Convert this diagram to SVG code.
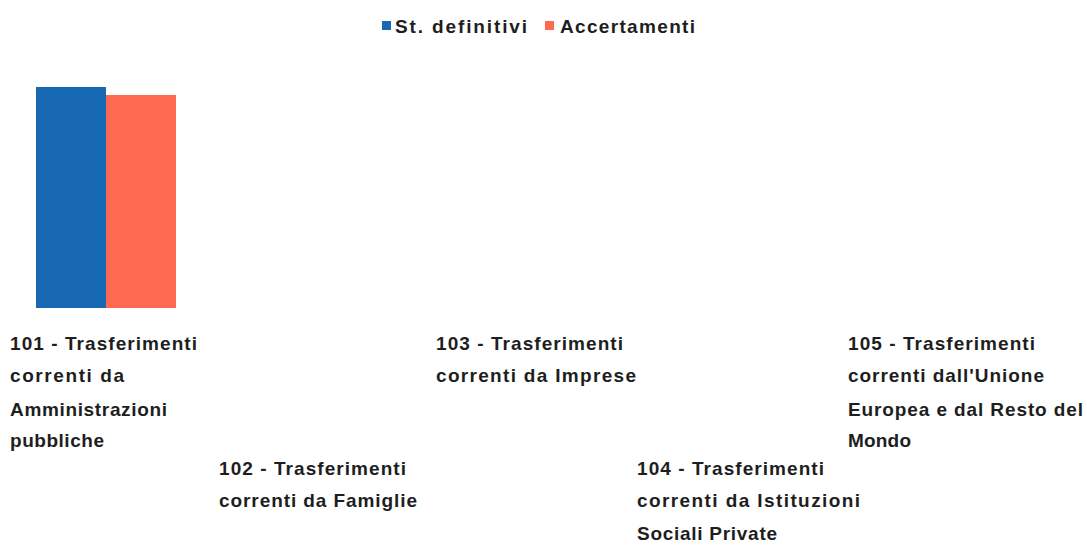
<svg xmlns="http://www.w3.org/2000/svg" width="1087" height="546" viewBox="0 0 1087 546">
<style>
text{font-family:"Liberation Sans",Arial,sans-serif;font-weight:bold;font-size:19px;fill:#1e1e1e}
.b{fill:#1769b3}.r{fill:#fd6a4f}
</style>
<rect width="1087" height="546" fill="#fff"/>
<g id="legend">
<rect class="b" x="382" y="21" width="9" height="9"/>
<text x="395" y="33" textLength="132" lengthAdjust="spacing">St. definitivi</text>
<rect class="r" x="545" y="21" width="9" height="9"/>
<text x="560" y="33" textLength="135" lengthAdjust="spacing">Accertamenti</text>
</g>
<g id="bars">
<rect class="b" x="36" y="87" width="70" height="221"/>
<rect class="r" x="106" y="95" width="70" height="213"/>
</g>
<g id="cat101"><text x="10" y="350" textLength="187" lengthAdjust="spacing">101 - Trasferimenti</text><text x="10" y="382" textLength="114" lengthAdjust="spacing">correnti da</text><text x="10" y="416" textLength="157" lengthAdjust="spacing">Amministrazioni</text><text x="10" y="447" textLength="94" lengthAdjust="spacing">pubbliche</text></g>
<g id="cat102"><text x="219" y="475" textLength="187" lengthAdjust="spacing">102 - Trasferimenti</text><text x="219" y="507" textLength="198" lengthAdjust="spacing">correnti da Famiglie</text></g>
<g id="cat103"><text x="436" y="350" textLength="187" lengthAdjust="spacing">103 - Trasferimenti</text><text x="436" y="382" textLength="200" lengthAdjust="spacing">correnti da Imprese</text></g>
<g id="cat104"><text x="637" y="475" textLength="187" lengthAdjust="spacing">104 - Trasferimenti</text><text x="637" y="507" textLength="223" lengthAdjust="spacing">correnti da Istituzioni</text><text x="637" y="540" textLength="140" lengthAdjust="spacing">Sociali Private</text></g>
<g id="cat105"><text x="848" y="350" textLength="187" lengthAdjust="spacing">105 - Trasferimenti</text><text x="848" y="382" textLength="196" lengthAdjust="spacing">correnti dall'Unione</text><text x="848" y="416" textLength="235" lengthAdjust="spacing">Europea e dal Resto del</text><text x="848" y="447" textLength="63" lengthAdjust="spacing">Mondo</text></g>
</svg>
